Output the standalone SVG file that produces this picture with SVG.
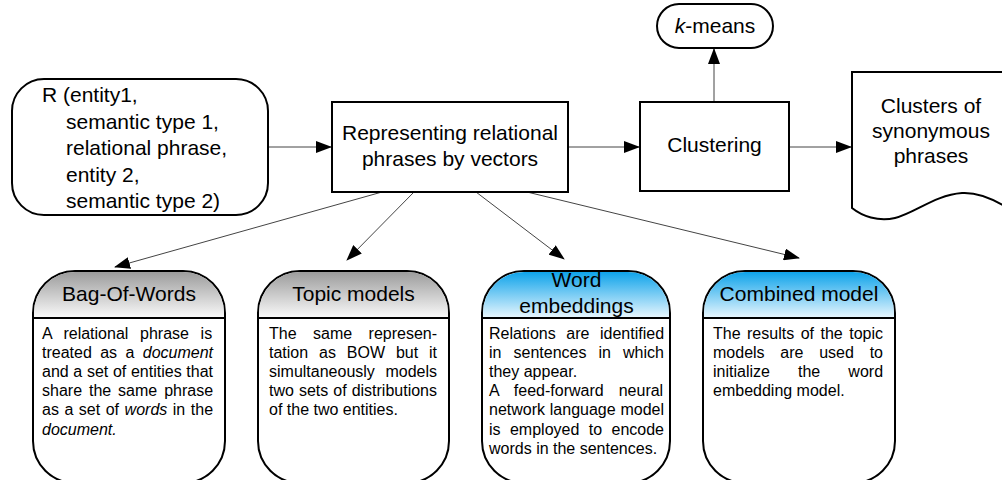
<svg xmlns="http://www.w3.org/2000/svg" width="1002" height="480" viewBox="0 0 1002 480">
<defs>
<linearGradient id="gGray" x1="0" y1="0" x2="0" y2="1">
<stop offset="0" stop-color="#9c9c9c"/>
<stop offset="1" stop-color="#fafafa"/>
</linearGradient>
<linearGradient id="gBlue" x1="0" y1="0" x2="0" y2="1">
<stop offset="0" stop-color="#0ea3ea"/>
<stop offset="1" stop-color="#eaf7fe"/>
</linearGradient>
<marker id="arr" markerUnits="userSpaceOnUse" viewBox="0 0 16 12" markerWidth="16" markerHeight="12" refX="15" refY="6" orient="auto">
<path d="M0,0 L16,6 L0,12 Z" fill="#000"/>
</marker>
</defs>
<style>
text{font-family:"Liberation Sans",Arial,sans-serif;fill:#000}
.box{fill:#fff;stroke:#000;stroke-width:2}
.t21{font-size:21px}
.mid{text-anchor:middle}
.body{font-size:16px}
.div{stroke:#000;stroke-width:2}
.conn{stroke:#444;stroke-width:1;fill:none;marker-end:url(#arr)}
</style>

<g id="connectors">
<line class="conn" x1="268" y1="147" x2="331" y2="147"/>
<line class="conn" x1="568" y1="147" x2="639" y2="147"/>
<line class="conn" x1="789" y1="147" x2="851" y2="147"/>
<line class="conn" x1="714" y1="102" x2="714" y2="49"/>
<line class="conn" x1="382" y1="192" x2="115" y2="267"/>
<line class="conn" x1="414" y1="192" x2="347" y2="260"/>
<line class="conn" x1="476" y1="192" x2="564" y2="259"/>
<line class="conn" x1="527" y1="192" x2="799" y2="258"/>
</g>

<g id="input">
<rect class="box" x="12" y="79" width="256" height="136" rx="32"/>
<text class="t21" x="42" y="102">R (entity1,</text>
<text class="t21" x="66" y="128.5">semantic type 1,</text>
<text class="t21" x="66" y="155">relational phrase,</text>
<text class="t21" x="66" y="181.5">entity 2,</text>
<text class="t21" x="66" y="208">semantic type 2)</text>
</g>

<g id="representing">
<rect class="box" x="332" y="102" width="236" height="90"/>
<text class="t21 mid" x="450" y="140">Representing relational</text>
<text class="t21 mid" x="450" y="166">phrases by vectors</text>
</g>

<g id="clustering">
<rect class="box" x="640" y="102" width="149" height="89"/>
<text class="t21 mid" x="714.5" y="152">Clustering</text>
</g>

<g id="kmeans">
<rect class="box" x="657" y="4" width="116" height="44" rx="22"/>
<text class="t21 mid" x="715" y="33"><tspan font-style="italic">k</tspan>-means</text>
</g>

<g id="clusters">
<path class="box" d="M852,72 H1012 V211 C 996,200 980,192 962,193 C 935,195 915,213 895,218 C 878,222 862,216 852,208 Z"/>
<text class="t21 mid" x="931" y="113">Clusters of</text>
<text class="t21 mid" x="931" y="138">synonymous</text>
<text class="t21 mid" x="931" y="163">phrases</text>
</g>

<g id="bow">
<rect class="box" x="33" y="271" width="192" height="212" rx="42"/>
<path d="M34,318 V313 A41,41 0 0 1 75,272 H183 A41,41 0 0 1 224,313 V318 Z" fill="url(#gGray)"/>
<line class="div" x1="33" y1="318" x2="225" y2="318"/>
<text class="t21 mid" x="129" y="301">Bag-Of-Words</text>
<g class="body">
<text class="body" x="42" y="338.5" word-spacing="7.2">A relational phrase is</text>
<text class="body" x="42" y="357.7" word-spacing="3.93">treated as a <tspan font-style="italic">document</tspan></text>
<text class="body" x="42" y="376.9" word-spacing="0.22">and a set of entities that</text>
<text class="body" x="42" y="396.1" word-spacing="2.47">share the same phrase</text>
<text class="body" x="42" y="415.3" word-spacing="1.08">as a set of <tspan font-style="italic">words</tspan> in the</text>
<text class="body" x="42" y="434.5" font-style="italic">document.</text>
</g>
</g>

<g id="topic">
<rect class="box" x="258" y="271" width="191" height="212" rx="42"/>
<path d="M259,318 V313 A41,41 0 0 1 300,272 H407 A41,41 0 0 1 448,313 V318 Z" fill="url(#gGray)"/>
<line class="div" x1="258" y1="318" x2="449" y2="318"/>
<text class="t21 mid" x="353.5" y="301">Topic models</text>
<text class="body" x="269" y="338.5" word-spacing="12">The same represen-</text>
<text class="body" x="269" y="357.7" word-spacing="6.43">tation as BOW but it</text>
<text class="body" x="269" y="376.9" word-spacing="6.2">simultaneously models</text>
<text class="body" x="269" y="396.1" word-spacing="0.57">two sets of distributions</text>
<text class="body" x="269" y="415.3">of the two entities.</text>
</g>

<g id="word-emb">
<rect class="box" x="482" y="271" width="188" height="212" rx="42"/>
<path d="M483,318 V313 A41,41 0 0 1 524,272 H628 A41,41 0 0 1 669,313 V318 Z" fill="url(#gBlue)"/>
<line class="div" x1="482" y1="318" x2="670" y2="318"/>
<text class="t21 mid" x="576.5" y="287">Word</text>
<text class="t21 mid" x="576.5" y="313">embeddings</text>
<text class="body" x="489" y="338.5" word-spacing="6.15">Relations are identified</text>
<text class="body" x="489" y="357.7" word-spacing="7.63">in sentences in which</text>
<text class="body" x="489" y="376.9">they appear.</text>
<text class="body" x="489" y="396.1" word-spacing="10.6">A feed-forward neural</text>
<text class="body" x="489" y="415.3" word-spacing="0.35">network language model</text>
<text class="body" x="489" y="434.5" word-spacing="4.97">is employed to encode</text>
<text class="body" x="489" y="453.7">words in the sentences.</text>
</g>

<g id="combined">
<rect class="box" x="703" y="271" width="192" height="212" rx="42"/>
<path d="M704,318 V313 A41,41 0 0 1 745,272 H853 A41,41 0 0 1 894,313 V318 Z" fill="url(#gBlue)"/>
<line class="div" x1="703" y1="318" x2="895" y2="318"/>
<text class="t21 mid" x="799" y="301">Combined model</text>
<text class="body" x="713" y="338.5" word-spacing="2.03">The results of the topic</text>
<text class="body" x="713" y="357.7" word-spacing="11.3">models are used to</text>
<text class="body" x="713" y="376.9" word-spacing="23.65">initialize the word</text>
<text class="body" x="713" y="396.1">embedding model.</text>
</g>
</svg>
